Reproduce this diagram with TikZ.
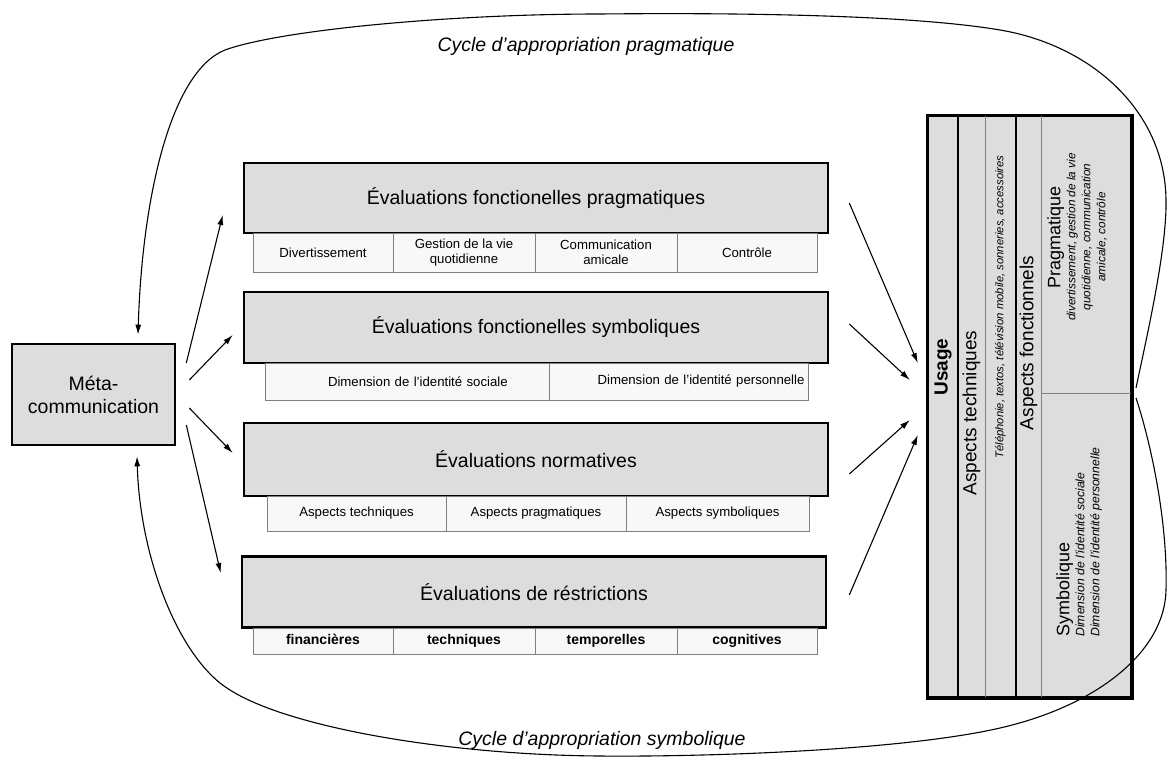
\documentclass[tikz,border=0pt]{standalone}
\usepackage{fontspec}
\setmainfont{Liberation Sans}
\usetikzlibrary{arrows.meta}
\definecolor{boxgray}{HTML}{DDDDDD}
\definecolor{cellgray}{HTML}{F8F8F8}
\definecolor{linegray}{HTML}{808080}

\begin{document}
\begin{tikzpicture}[x=1pt, y=-1pt]
\tikzstyle{evalbox}=[rectangle, draw=black, line width=2.6pt, fill=boxgray, minimum width=584pt, inner sep=0pt, font=\fontsize{19.5}{22}\selectfont]
\tikzstyle{cell}=[rectangle, draw=linegray, line width=0.8pt, fill=cellgray, inner sep=0pt, align=center, font=\fontsize{13.2}{15}\selectfont]
\tikzstyle{boldcell}=[cell, text height=10pt, text depth=3pt, font=\fontsize{14}{16}\selectfont\bfseries]
\tikzstyle{colbox}=[rectangle, draw=black, line width=2.4pt, fill=boxgray, inner sep=0pt]
\tikzstyle{coltext}=[rotate=90, inner sep=0pt, font=\fontsize{19}{22}\selectfont]
\tikzstyle{drawstyle}=[line width=1.1pt, -{Latex[length=10pt,width=6pt]}]
\tikzstyle{cyclestyle}=[line width=1.1pt, -{Latex[length=10pt,width=6pt]}]
\tikzstyle{cyclelabel}=[font=\fontsize{19.5}{22}\selectfont\itshape]

\useasboundingbox (0,0) rectangle (1168,758);

% meta
\node[evalbox, minimum width=163pt, minimum height=101pt, align=center, font=\fontsize{19.5}{23}\selectfont] (Meta) at (93.5,394.5) {Méta-\\communication};

% evaluations
\node[evalbox, minimum height=70pt] (E1) at (536,198) {Évaluations fonctionelles pragmatiques};
\node[cell, minimum width=140pt, minimum height=39pt] (E1c1) at (323,252.5) {Divertissement};
\node[cell, minimum width=142pt, minimum height=39pt] (E1c2) at (464,252.5) {Gestion de la vie\\quotidienne};
\node[cell, minimum width=142pt, minimum height=39pt] (E1c3) at (606,252.5) {Communication\\amicale};
\node[cell, minimum width=140pt, minimum height=39pt] (E1c4) at (747,252.5) {Contrôle};

\node[evalbox, minimum height=71pt] (E2) at (536,327.5) {Évaluations fonctionelles symboliques};
\node[cell, minimum width=284pt, minimum height=37pt, text width=260pt, align=left] (E2c1) at (407,381.5) {\hspace*{51pt}Dimension de l'identité sociale};
\node[cell, minimum width=259pt, minimum height=37pt, text width=252pt, align=right] (E2c2) at (678.5,381.5) {Dimension de l'identité personnelle};

\node[evalbox, minimum height=73pt] (E3) at (536,459.5) {Évaluations normatives};
\node[cell, minimum width=179pt, minimum height=35pt] (E3c1) at (356.5,513.5) {Aspects techniques};
\node[cell, minimum width=180pt, minimum height=35pt] (E3c2) at (536,513.5) {Aspects pragmatiques};
\node[cell, minimum width=183pt, minimum height=35pt] (E3c3) at (717.5,513.5) {Aspects symboliques};

\node[evalbox, minimum height=71pt] (E4) at (534,592) {Évaluations de réstrictions};
\node[boldcell, minimum width=140pt, minimum height=26pt] (E4c1) at (323,641) {financières};
\node[boldcell, minimum width=142pt, minimum height=26pt] (E4c2) at (464,641) {techniques};
\node[boldcell, minimum width=142pt, minimum height=26pt] (E4c3) at (606,641) {temporelles};
\node[boldcell, minimum width=140pt, minimum height=26pt] (E4c4) at (747,641) {cognitives};

% usage
\node[colbox, minimum width=203pt, minimum height=581pt] (Usage) at (1029.5,406.5) {};
\node[rectangle, inner sep=0pt, minimum width=90pt, minimum height=277pt] (Prag) at (1086,254.5) {};
\node[rectangle, inner sep=0pt, minimum width=90pt, minimum height=304pt] (Symb) at (1086,545) {};
\draw[line width=2.4pt] (958,116) -- (958,697);
\draw[line width=0.8pt, linegray] (985,116) -- (985,697);
\draw[line width=2.4pt] (1016,116) -- (1016,697);
\draw[line width=0.8pt, linegray] (1041,116) -- (1041,697);
\draw[line width=0.8pt, linegray] (Prag.south west) -- (Prag.south east);
\draw[line width=2.6pt] (Usage.north west) rectangle (Usage.south east);

\node[coltext, font=\fontsize{19}{22}\selectfont\bfseries] (UsageT) at (943,367) {Usage};
\node[coltext] (TechT) at (971.5,413) {Aspects techniques};
\node[coltext, font=\fontsize{11.3}{13}\selectfont\itshape] (TechL) at (1000.5,307) {Téléphonie, textos, télévision mobile, sonneries, accessoires};
\node[coltext] (FoncT) at (1028.5,343) {Aspects fonctionnels};
\node[coltext, align=center, font=\fontsize{11.8}{15}\selectfont\itshape] (PragT) at (1077,237) {{\upshape\fontsize{18}{20}\selectfont Pragmatique}\\divertissement, gestion de la vie\\quotidienne, communication\\amicale, contrôle};
\node[coltext, align=left, font=\fontsize{12.2}{15}\selectfont\itshape] (SymbT) at (1079,542) {{\upshape\fontsize{18}{20}\selectfont Symbolique}\\Dimension de l'identité sociale\\Dimension de l'identité personnelle};

% arrows meta -> evaluations
\draw[drawstyle] ([shift={(10,-31.5)}]Meta.east) -- ([shift={(-20,17)}]E1.west);
\draw[drawstyle] ([shift={(13,-14.5)}]Meta.east) -- ([shift={(-10,7.5)}]E2.west);
\draw[drawstyle] ([shift={(13,13.5)}]Meta.east) -- ([shift={(-10,-6.5)}]E3.west);
\draw[drawstyle] ([shift={(10,30.5)}]Meta.east) -- ([shift={(-20,-19)}]E4.west);

% arrows evaluations -> usage
\draw[drawstyle] ([shift={(20,5)}]E1.east) -- ([shift={(-9,-43.5)}]Usage.west);
\draw[drawstyle] ([shift={(20,-3.5)}]E2.east) -- ([shift={(-17,-26.5)}]Usage.west);
\draw[drawstyle] ([shift={(20,14.5)}]E3.east) -- ([shift={(-17,13.5)}]Usage.west);
\draw[drawstyle] ([shift={(22,3)}]E4.east) -- ([shift={(-9,28.5)}]Usage.west);

% cycles
\coordinate (TopTip) at (1136,388);
\coordinate (BotTip) at (1136,398);
\coordinate (MetaTop) at ([shift={(44.5,-8)}]Meta.north);
\coordinate (MetaBot) at ([shift={(43.5,10)}]Meta.south);
\draw[cyclestyle] (TopTip) .. controls (1146,340) and (1167,250) .. (1166,200)
  .. controls (1165,110) and (1090,45) .. (1000,30)
  .. controls (900,13) and (700,13) .. (600,14)
  .. controls (450,14) and (280,30) .. (225,50)
  .. controls (170,72) and (142,200) .. (MetaTop);
\draw[cyclestyle] (BotTip) .. controls (1150,440) and (1168,520) .. (1166,590)
  .. controls (1165,650) and (1100,705) .. (1000,728)
  .. controls (900,751) and (700,757) .. (600,756)
  .. controls (450,755) and (290,728) .. (230,690)
  .. controls (180,660) and (140,560) .. (MetaBot);

\node[cyclelabel] (CycleP) at (586,46) {Cycle d'appropriation pragmatique};
\node[cyclelabel] (CycleS) at (602,740) {Cycle d'appropriation symbolique};
\end{tikzpicture}
\end{document}
